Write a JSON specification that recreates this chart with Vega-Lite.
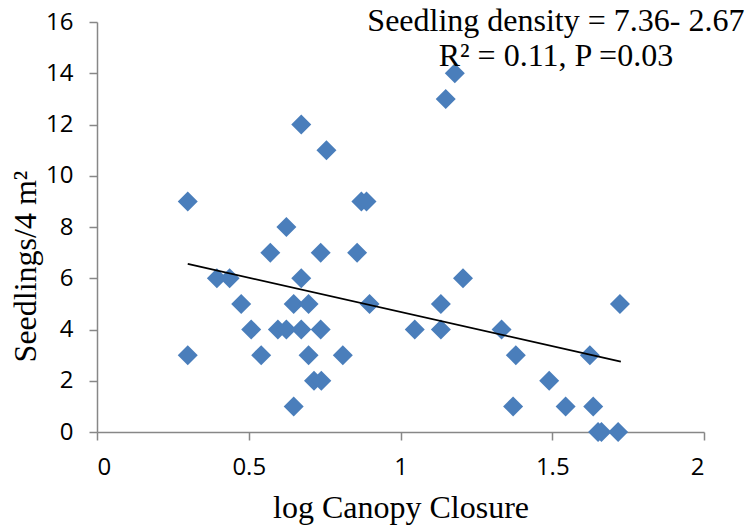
{
  "$schema": "https://vega.github.io/schema/vega-lite/v6.json",
  "width": 607,
  "height": 410,
  "autosize": "none",
  "padding": {"left": 97, "top": 22, "right": 44, "bottom": 97},
  "background": "white",
  "config": {
    "view": {"stroke": null},
    "axis": {
      "grid": false,
      "domainColor": "#878787",
      "domainWidth": 1.5,
      "tickColor": "#878787",
      "tickWidth": 1.5,
      "tickSize": 8,
      "labelFont": "Open Sans",
      "labelFontSize": 24,
      "labelColor": "#000000",
      "titleFont": "Liberation Serif",
      "titleFontSize": 32,
      "titleFontWeight": "normal",
      "titleColor": "#000000"
    }
  },
  "datasets": {
    "points": [
      {"logCanopy": 0.299, "seedlings": 9},
      {"logCanopy": 0.299, "seedlings": 3},
      {"logCanopy": 0.395, "seedlings": 6},
      {"logCanopy": 0.437, "seedlings": 6},
      {"logCanopy": 0.475, "seedlings": 5},
      {"logCanopy": 0.508, "seedlings": 4},
      {"logCanopy": 0.541, "seedlings": 3},
      {"logCanopy": 0.571, "seedlings": 7},
      {"logCanopy": 0.596, "seedlings": 4},
      {"logCanopy": 0.624, "seedlings": 4},
      {"logCanopy": 0.624, "seedlings": 8},
      {"logCanopy": 0.648, "seedlings": 5},
      {"logCanopy": 0.648, "seedlings": 1},
      {"logCanopy": 0.673, "seedlings": 12},
      {"logCanopy": 0.673, "seedlings": 6},
      {"logCanopy": 0.673, "seedlings": 4},
      {"logCanopy": 0.697, "seedlings": 5},
      {"logCanopy": 0.697, "seedlings": 3},
      {"logCanopy": 0.715, "seedlings": 2},
      {"logCanopy": 0.737, "seedlings": 7},
      {"logCanopy": 0.737, "seedlings": 4},
      {"logCanopy": 0.739, "seedlings": 2},
      {"logCanopy": 0.756, "seedlings": 11},
      {"logCanopy": 0.81, "seedlings": 3},
      {"logCanopy": 0.857, "seedlings": 7},
      {"logCanopy": 0.871, "seedlings": 9},
      {"logCanopy": 0.888, "seedlings": 9},
      {"logCanopy": 0.898, "seedlings": 5},
      {"logCanopy": 1.047, "seedlings": 4},
      {"logCanopy": 1.133, "seedlings": 5},
      {"logCanopy": 1.133, "seedlings": 4},
      {"logCanopy": 1.149, "seedlings": 13},
      {"logCanopy": 1.179, "seedlings": 14},
      {"logCanopy": 1.206, "seedlings": 6},
      {"logCanopy": 1.333, "seedlings": 4},
      {"logCanopy": 1.371, "seedlings": 1},
      {"logCanopy": 1.38, "seedlings": 3},
      {"logCanopy": 1.49, "seedlings": 2},
      {"logCanopy": 1.544, "seedlings": 1},
      {"logCanopy": 1.624, "seedlings": 3},
      {"logCanopy": 1.635, "seedlings": 1},
      {"logCanopy": 1.651, "seedlings": 0},
      {"logCanopy": 1.662, "seedlings": 0},
      {"logCanopy": 1.717, "seedlings": 0},
      {"logCanopy": 1.723, "seedlings": 5}
    ],
    "trend": [
      {"logCanopy": 0.299, "seedlings": 6.56},
      {"logCanopy": 1.726, "seedlings": 2.75}
    ]
  },
  "layer": [
    {
      "data": {"name": "points"},
      "mark": {"type": "point", "shape": "diamond", "filled": true, "size": 400, "color": "#4A7EBB", "opacity": 1, "clip": false},
      "encoding": {
        "x": {
          "field": "logCanopy", "type": "quantitative",
          "scale": {"domain": [0, 2], "nice": false, "zero": true},
          "axis": {"values": [0, 0.5, 1, 1.5, 2], "format": "~g", "labelPadding": 15, "title": "log Canopy Closure", "titleY": 85, "titleBaseline": "alphabetic"}
        },
        "y": {
          "field": "seedlings", "type": "quantitative",
          "scale": {"domain": [0, 16], "nice": false},
          "axis": {"values": [0, 2, 4, 6, 8, 10, 12, 14, 16], "labelPadding": 16, "title": "Seedlings/4 m²", "titleX": -62, "titleY": 244, "titleBaseline": "alphabetic", "titleAlign": "center", "titleAngle": -90}
        }
      }
    },
    {
      "data": {"name": "trend"},
      "mark": {"type": "line", "color": "#000000", "strokeWidth": 1.75},
      "encoding": {
        "x": {"field": "logCanopy", "type": "quantitative"},
        "y": {"field": "seedlings", "type": "quantitative"}
      }
    },
    {
      "data": {"values": [{}]},
      "mark": {"type": "text", "font": "Liberation Serif", "fontSize": 32, "align": "center", "baseline": "alphabetic", "lineHeight": 35, "color": "#000000"},
      "encoding": {
        "x": {"datum": 1.512, "type": "quantitative"},
        "y": {"datum": 15.64, "type": "quantitative"},
        "text": {"value": ["Seedling density = 7.36- 2.67", "R² = 0.11, P =0.03"]}
      }
    }
  ]
}
